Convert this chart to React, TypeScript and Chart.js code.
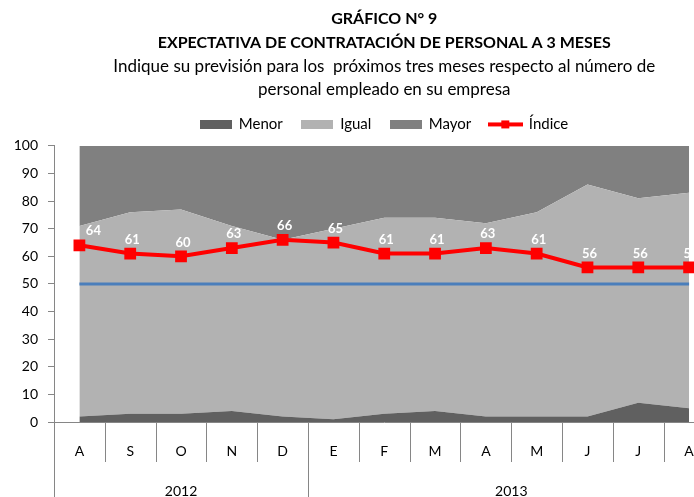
import React, { useEffect, useRef } from 'react';
import { Chart, registerables } from 'chart.js';

Chart.register(...registerables);

const months = ['A', 'S', 'O', 'N', 'D', 'E', 'F', 'M', 'A', 'M', 'J', 'J', 'A'];
const yearLabels = ['2012', '2013'];
const yearMonthCounts = [5, 8];
const menor = [2, 3, 3, 4, 2, 1, 3, 4, 2, 2, 2, 7, 5];
const igual = [69, 73, 74, 67, 64, 69, 71, 70, 70, 74, 84, 74, 78];
const mayor = [29, 24, 23, 29, 34, 30, 26, 26, 28, 24, 14, 19, 17];
const indice = [64, 61, 60, 63, 66, 65, 61, 61, 63, 61, 56, 56, 56];
const referencia = [50, 50, 50, 50, 50, 50, 50, 50, 50, 50, 50, 50, 50];
const yTicks = [0, 10, 20, 30, 40, 50, 60, 70, 80, 90, 100];

const FONT = 'Lato, "Open Sans", sans-serif';
const C_MENOR = '#606060';
const C_IGUAL = '#b2b2b2';
const C_MAYOR = '#808080';
const C_RED = '#ff0000';
const C_BLUE = '#4a7ebb';
const C_AXIS = '#868686';

function makeBox(color: string) {
  const c = document.createElement('canvas');
  c.width = 32;
  c.height = 9;
  const ctx = c.getContext('2d')!;
  ctx.fillStyle = color;
  ctx.fillRect(0, 0, 32, 9);
  return c;
}

function makeLineMarker() {
  const c = document.createElement('canvas');
  c.width = 35;
  c.height = 10;
  const ctx = c.getContext('2d')!;
  ctx.fillStyle = C_RED;
  ctx.fillRect(0, 3, 35, 4);
  ctx.fillRect(13, 1, 8, 8);
  return c;
}

const legendGapPlugin = {
  id: 'legendGap',
  beforeLayout(chart: any) {
    const lg = chart.legend;
    if (lg && !lg._gapPatched) {
      const orig = lg.fit.bind(lg);
      lg.fit = function () {
        orig();
        this.height += 4;
      };
      lg._gapPatched = true;
    }
  },
};

const dataLabelPlugin = {
  id: 'dataLabels',
  afterDatasetsDraw(chart: any) {
    const meta = chart.getDatasetMeta(3);
    const ctx = chart.ctx;
    ctx.save();
    ctx.font = `bold 13px ${FONT}`;
    ctx.fillStyle = '#ffffff';
    ctx.textAlign = 'center';
    ctx.textBaseline = 'middle';
    meta.data.forEach((pt: any, i: number) => {
      const dx = i === 0 ? 14 : 2;
      ctx.fillText(String(indice[i]), pt.x + dx, pt.y - 14);
    });
    ctx.restore();
  },
};

const groupAxisPlugin = {
  id: 'groupAxis',
  afterDraw(chart: any) {
    const xs = chart.scales.x;
    const ctx = chart.ctx;
    const half = (xs.getPixelForValue(1) - xs.getPixelForValue(0)) / 2;
    const top = chart.chartArea.bottom;
    const bottom = chart.height;
    const boundaries = new Set<number>([0]);
    let acc = 0;
    yearMonthCounts.forEach((n) => {
      acc += n;
      boundaries.add(acc);
    });
    ctx.save();
    ctx.strokeStyle = C_AXIS;
    ctx.lineWidth = 1;
    for (let i = 0; i <= months.length; i++) {
      const x = Math.round(xs.getPixelForValue(i) - half) + 0.5;
      const yEnd = boundaries.has(i) ? bottom : top + 40;
      ctx.beginPath();
      ctx.moveTo(x, top);
      ctx.lineTo(x, yEnd);
      ctx.stroke();
    }
    ctx.font = `14px ${FONT}`;
    ctx.fillStyle = '#000';
    ctx.textAlign = 'center';
    ctx.textBaseline = 'middle';
    let start = 0;
    yearLabels.forEach((lab, k) => {
      const end = start + yearMonthCounts[k];
      const x0 = xs.getPixelForValue(start) - half;
      const x1 = xs.getPixelForValue(end - 1) + half;
      ctx.fillText(lab, (x0 + x1) / 2, top + 69);
      start = end;
    });
    ctx.restore();
  },
};

export default function App() {
  const ref = useRef<HTMLCanvasElement>(null);
  useEffect(() => {
    if (!ref.current) return;
    const boxes = [makeBox(C_MENOR), makeBox(C_IGUAL), makeBox(C_MAYOR), makeLineMarker()];
    const defaultGen = (Chart.defaults.plugins.legend.labels as any).generateLabels;
    const chart = new Chart(ref.current, {
      type: 'line',
      data: {
        labels: months,
        datasets: [
          { label: 'Menor', data: menor, backgroundColor: C_MENOR, borderWidth: 0, pointRadius: 0, fill: 'origin', stack: 'areas', order: 2 } as any,
          { label: 'Igual', data: igual, backgroundColor: C_IGUAL, borderWidth: 0, pointRadius: 0, fill: '-1', stack: 'areas', order: 2 } as any,
          { label: 'Mayor', data: mayor, backgroundColor: C_MAYOR, borderWidth: 0, pointRadius: 0, fill: '-1', stack: 'areas', order: 2 } as any,
          { label: 'Índice', data: indice, borderColor: C_RED, backgroundColor: C_RED, borderWidth: 4, pointStyle: 'rect', pointRadius: 5.5, fill: false, stack: 'idx', order: 0 } as any,
          { label: 'ref', data: referencia, borderColor: C_BLUE, borderWidth: 3, pointRadius: 0, fill: false, stack: 'ref', order: 1 } as any,
        ],
      },
      options: {
        animation: false,
        responsive: false,
        maintainAspectRatio: false,
        layout: { padding: { left: 0, right: 7, top: 0, bottom: 0 } },
        scales: {
          x: {
            type: 'category',
            offset: true,
            grid: { display: false, offset: true, drawOnChartArea: false, drawTicks: false },
            border: { display: true, color: C_AXIS, width: 1 },
            ticks: { font: { family: FONT, size: 14 }, color: '#000', padding: 21, maxRotation: 0, autoSkip: false },
            afterFit: (s: any) => { s.height = 75; },
          },
          y: {
            stacked: true,
            min: 0,
            max: 100,
            afterBuildTicks: (s: any) => { s.ticks = yTicks.map((v) => ({ value: v })); },
            grid: { display: true, drawOnChartArea: false, drawTicks: true, tickLength: 6, color: C_AXIS },
            border: { display: true, color: C_AXIS, width: 1 },
            ticks: { font: { family: FONT, size: 14 }, color: '#000', padding: 10 },
            afterFit: (s: any) => { s.width = 54; },
          },
        },
        plugins: {
          tooltip: { enabled: false },
          title: {
            display: true,
            fullSize: false,
            text: ['GRÁFICO N° 9', 'EXPECTATIVA DE CONTRATACIÓN DE PERSONAL A 3 MESES'],
            font: { family: FONT, size: 16, weight: 'bold', lineHeight: 1.5 },
            color: '#000',
            padding: { top: 7, bottom: 0 },
          },
          subtitle: {
            display: true,
            fullSize: false,
            text: ['Indique su previsión para los  próximos tres meses respecto al número de', 'personal empleado en su empresa'],
            font: { family: FONT, size: 17, lineHeight: 1.35 },
            color: '#000',
            padding: { top: 0, bottom: -3 },
          },
          legend: {
            display: true,
            fullSize: false,
            position: 'top',
            labels: {
              font: { family: FONT, size: 15 },
              color: '#000',
              usePointStyle: true,
              pointStyleWidth: 31,
              padding: 19,
              filter: (item: any) => item.datasetIndex !== 4,
              sort: (a: any, b: any) => a.datasetIndex - b.datasetIndex,
              generateLabels: (ch: any) =>
                defaultGen(ch).map((it: any) => ({ ...it, pointStyle: boxes[it.datasetIndex] || it.pointStyle })),
            },
          },
        },
      } as any,
      plugins: [legendGapPlugin, dataLabelPlugin, groupAxisPlugin],
    });
    return () => chart.destroy();
  }, []);
  return (
    <div style={{ position: 'fixed', left: 0, top: 0, width: 694, height: 497, overflow: 'hidden', background: '#fff' }}>
      <canvas ref={ref} width={724} height={497} style={{ width: 724, height: 497, display: 'block' }} />
    </div>
  );
}
